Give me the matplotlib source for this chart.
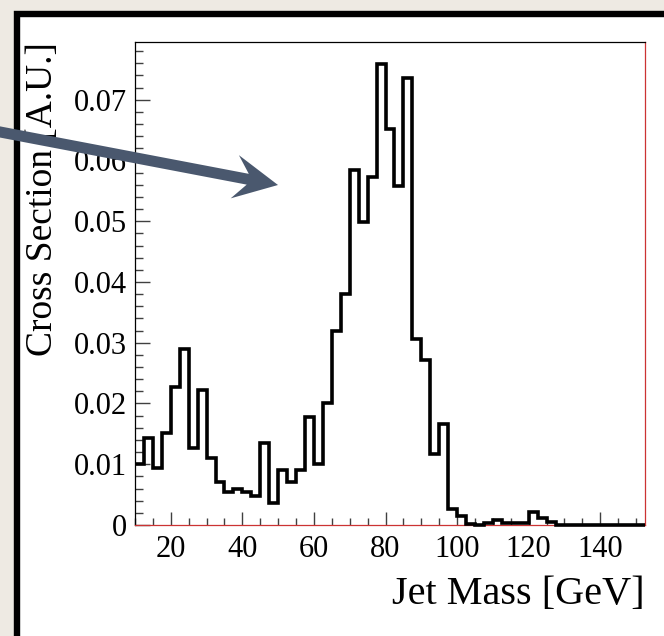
import numpy as np
import matplotlib
matplotlib.use("Agg")
import matplotlib.pyplot as plt
from matplotlib.patches import Rectangle, FancyArrow

# histogram: 2.5 GeV bins from 10 to 152.5
bin_lo = 10.0
bin_w = 2.5
xsec = [0.0101, 0.0143, 0.0093, 0.0152, 0.0227, 0.0289, 0.0126, 0.0223,
        0.0111, 0.0070, 0.0054, 0.0060, 0.0054, 0.0047, 0.0135, 0.0037,
        0.0090, 0.0070, 0.0090, 0.0178, 0.0100, 0.0201, 0.0319, 0.0380,
        0.0585, 0.0498, 0.0572, 0.0758, 0.0652, 0.0558, 0.0735, 0.0306,
        0.0272, 0.0117, 0.0167, 0.0026, 0.0014, 0.0001, 0.0000, 0.0003,
        0.0008, 0.0003, 0.0004, 0.0003, 0.0022, 0.0012, 0.0005, 0.0,
        0.0, 0.0, 0.0, 0.0, 0.0, 0.0, 0.0, 0.0, 0.0]

xticks = [20, 40, 60, 80, 100, 120, 140]
yticks = [0, 0.01, 0.02, 0.03, 0.04, 0.05, 0.06, 0.07]
ytick_labels = ['0', '0.01', '0.02', '0.03', '0.04', '0.05', '0.06', '0.07']

plt.rcParams['font.family'] = ['Liberation Serif', 'DejaVu Serif']

W, H = 664, 636
fig = plt.figure(figsize=(W / 100, H / 100), dpi=100)
fig.patch.set_facecolor('#eeeae3')

# white slide panel with a thick black border (runs off the right/bottom)
bg = fig.add_axes([0, 0, 1, 1], zorder=0)
bg.set_xlim(0, W)
bg.set_ylim(H, 0)
bg.axis('off')
bg.add_patch(Rectangle((16.5, 14), 800, 800, facecolor='white',
                       edgecolor='black', linewidth=4.6))

ax = fig.add_axes([135 / W, 1 - 525 / H, 510 / W, 483 / H], zorder=1)
ax.set_facecolor('white')

edges = bin_lo + bin_w * np.arange(len(xsec) + 1)
ax.stairs(xsec, edges, baseline=None, color='black', linewidth=2.6,
          clip_on=False, zorder=3)

ax.set_xlim(edges[0], edges[-1])
ax.set_ylim(0, 0.0795)

ax.set_xticks(xticks)
ax.set_xticks(np.arange(10, 151, 5), minor=True)
ax.set_yticks(yticks)
ax.set_yticklabels(ytick_labels)
ax.set_yticks(np.arange(0, 0.0785, 0.002), minor=True)

ax.tick_params(axis='both', which='both', direction='in', color='#404040',
               width=1, labelsize=22, top=False, right=False)
ax.tick_params(axis='y', which='major', length=10.5, pad=5.5)
ax.tick_params(axis='y', which='minor', length=5.5)
ax.tick_params(axis='x', which='major', length=9.5, pad=7)
ax.tick_params(axis='x', which='minor', length=5)

for side in ['top', 'left']:
    ax.spines[side].set_color('black')
    ax.spines[side].set_linewidth(0.9)
for side in ['bottom', 'right']:
    ax.spines[side].set_color('#cc3333')
    ax.spines[side].set_linewidth(0.9)

fig.text(645 / W, 1 - 604 / H, 'Jet Mass [GeV]', ha='right', va='baseline',
         fontsize=29)
fig.text(43 / W, 1 - 42 / H, 'Cross Section [A.U.]', rotation=90,
         ha='center', va='top', fontsize=27)

# callout arrow drawn over everything
fg = fig.add_axes([0, 0, 1, 1], zorder=5)
fg.set_xlim(0, W)
fg.set_ylim(H, 0)
fg.axis('off')
fg.patch.set_alpha(0)
tail = np.array([-5.0, 131.0])
tip = np.array([278.0, 185.0])
d = tip - tail
fg.add_patch(FancyArrow(tail[0], tail[1], d[0], d[1], width=11,
                        head_width=44, head_length=44, overhang=0.3,
                        length_includes_head=True, color='#4a586e',
                        linewidth=0))

fig.savefig('out.png', dpi=100)
